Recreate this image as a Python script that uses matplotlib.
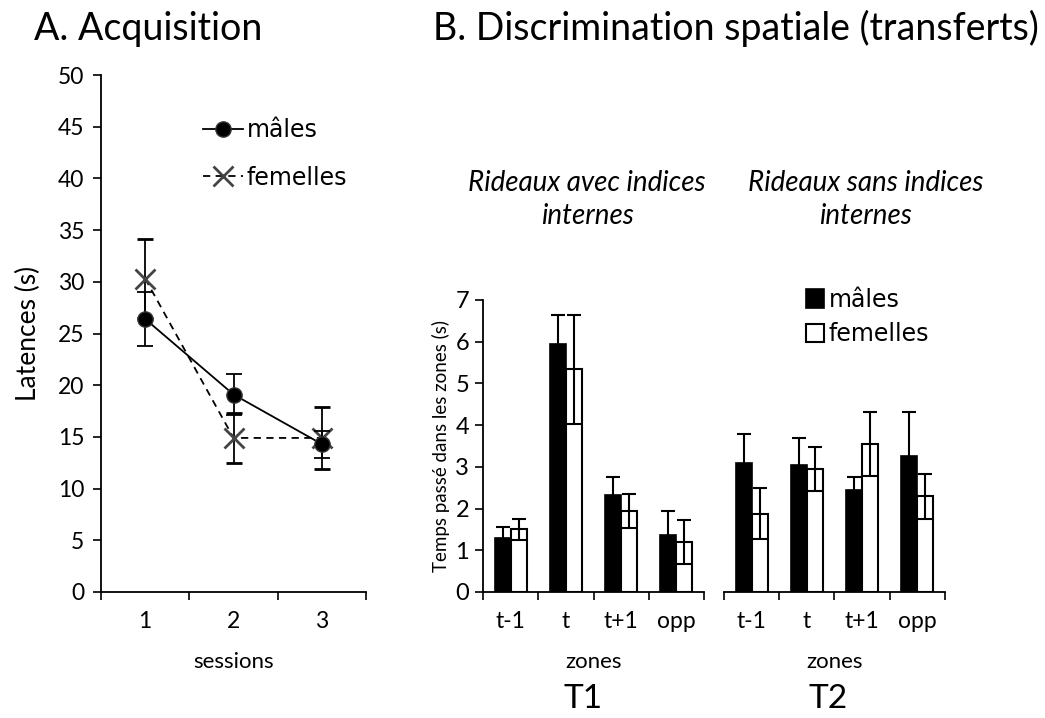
import matplotlib.pyplot as plt
import numpy as np

plt.rcParams['font.family'] = ['Lato', 'DejaVu Sans']

# panel A : latences par session
sessions = ['1', '2', '3']
lat_males = [26.4, 19.1, 14.3]
lat_males_err = [2.6, 2.0, 1.3]
lat_femelles = [30.3, 14.9, 14.9]
lat_femelles_err = [3.8, 2.4, 3.0]

# panel B : temps passe dans les zones
zones = ['t-1', 't', 't+1', 'opp']
t1_males = [1.30, 5.95, 2.32, 1.36]
t1_males_err = [0.25, 0.70, 0.44, 0.59]
t1_femelles = [1.50, 5.34, 1.95, 1.20]
t1_femelles_err = [0.25, 1.31, 0.41, 0.53]
t2_males = [3.10, 3.05, 2.45, 3.25]
t2_males_err = [0.69, 0.64, 0.30, 1.06]
t2_femelles = [1.88, 2.95, 3.55, 2.29]
t2_femelles_err = [0.61, 0.52, 0.76, 0.55]

TICK = 16.5
LEG = dict(family='DejaVu Sans', size=17)

fig = plt.figure(figsize=(10.45, 7.18), dpi=100)

# ---------- A ----------
axA = fig.add_axes([0.0967, 0.1755, 0.2536, 0.72])
x = np.arange(1, len(sessions) + 1)
axA.errorbar(x, lat_males, yerr=lat_males_err, color='black', lw=1.3,
             marker='o', ms=11, mfc='black', mec='#333333', capsize=6,
             elinewidth=1.3, capthick=1.3, label='mâles', zorder=3)
axA.errorbar(x, lat_femelles, yerr=lat_femelles_err, color='black', lw=1.3,
             ls=(0, (4, 3)), marker='x', ms=14, mec='#444444', mew=2,
             capsize=6, elinewidth=1.3, capthick=1.3, label='femelles', zorder=2)
axA.set_xlim(0.5, 3.5)
axA.set_ylim(0, 50)
axA.set_yticks(range(0, 51, 5))
axA.set_xticks([0.5, 1.5, 2.5, 3.5])
axA.set_xticklabels([])
axA.set_xticks(x, minor=True)
axA.set_xticklabels(sessions, minor=True)
axA.tick_params(axis='x', which='minor', length=0, pad=14, labelsize=TICK)
axA.tick_params(axis='x', which='major', length=6, width=1.2, direction='out')
axA.tick_params(axis='y', length=6, width=1.2, labelsize=TICK, pad=6)
for s in ['top', 'right']:
    axA.spines[s].set_visible(False)
for s in ['left', 'bottom']:
    axA.spines[s].set_linewidth(1.3)
axA.set_ylabel('Latences (s)', fontsize=19, labelpad=12)
axA.set_xlabel('sessions', fontsize=16, labelpad=14)
h, l = axA.get_legend_handles_labels()
hh = [hd[0] for hd in h]
axA.legend(hh, l, loc='upper left', bbox_to_anchor=(0.35, 0.935), frameon=False,
           prop=LEG, handlelength=1.7, handletextpad=0.15, labelspacing=1.0,
           borderaxespad=0)
fig.text(0.033, 0.96, 'A. Acquisition', fontsize=27, va='center')

# ---------- B ----------
w = 0.29


def draw_bars(ax, males, merr, fem, ferr):
    xb = np.arange(len(zones))
    ax.bar(xb - w / 2, males, w, color='black', edgecolor='black', lw=1.2,
           label='mâles', zorder=2)
    ax.bar(xb + w / 2, fem, w, color='white', edgecolor='black', lw=1.5,
           label='femelles', zorder=2)
    ax.errorbar(xb - w / 2, males, yerr=merr, fmt='none', ecolor='black',
                elinewidth=1.5, capsize=5, capthick=1.5, zorder=3)
    ax.errorbar(xb + w / 2, fem, yerr=ferr, fmt='none', ecolor='black',
                elinewidth=1.5, capsize=5, capthick=1.5, zorder=3)
    ax.set_xlim(-0.5, len(zones) - 0.5)
    ax.set_ylim(0, 7)
    ax.set_xticks(np.arange(len(zones) + 1) - 0.5)
    ax.set_xticklabels([])
    ax.set_xticks(xb, minor=True)
    ax.set_xticklabels(zones, minor=True)
    ax.tick_params(axis='x', which='minor', length=0, pad=14, labelsize=TICK)
    ax.tick_params(axis='x', which='major', length=6, width=1.2, direction='out')
    for s in ['top', 'right']:
        ax.spines[s].set_visible(False)
    for s in ['left', 'bottom']:
        ax.spines[s].set_linewidth(1.3)
    ax.set_xlabel('zones', fontsize=16, labelpad=14)


axB1 = fig.add_axes([0.4622, 0.1755, 0.2115, 0.4067])
draw_bars(axB1, t1_males, t1_males_err, t1_femelles, t1_femelles_err)
axB1.set_yticks(range(0, 8))
axB1.tick_params(axis='y', length=6, width=1.2, labelsize=17, pad=4)
axB1.set_ylabel('Temps passé dans les zones (s)', fontsize=13.5, labelpad=4)

axB2 = fig.add_axes([0.6928, 0.1755, 0.2115, 0.4067])
draw_bars(axB2, t2_males, t2_males_err, t2_femelles, t2_femelles_err)
axB2.spines['left'].set_visible(False)
axB2.set_yticks([])
axB2.legend(loc='upper left', bbox_to_anchor=(0.33, 1.075), frameon=False,
            prop=LEG, handlelength=0.75, handleheight=0.85, handletextpad=0.2,
            labelspacing=0.45, borderaxespad=0)

fig.text(0.414, 0.96, 'B. Discrimination spatiale (transferts)', fontsize=27,
         va='center')
fig.text(0.562, 0.722, 'Rideaux avec indices\ninternes', fontsize=20,
         style='italic', ha='center', va='center', linespacing=1.3)
fig.text(0.828, 0.722, 'Rideaux sans indices\ninternes', fontsize=20,
         style='italic', ha='center', va='center', linespacing=1.3)
fig.text(0.558, 0.006, 'T1', fontsize=24, ha='center', va='bottom')
fig.text(0.792, 0.006, 'T2', fontsize=24, ha='center', va='bottom')

fig.savefig('out.png', dpi=100)
